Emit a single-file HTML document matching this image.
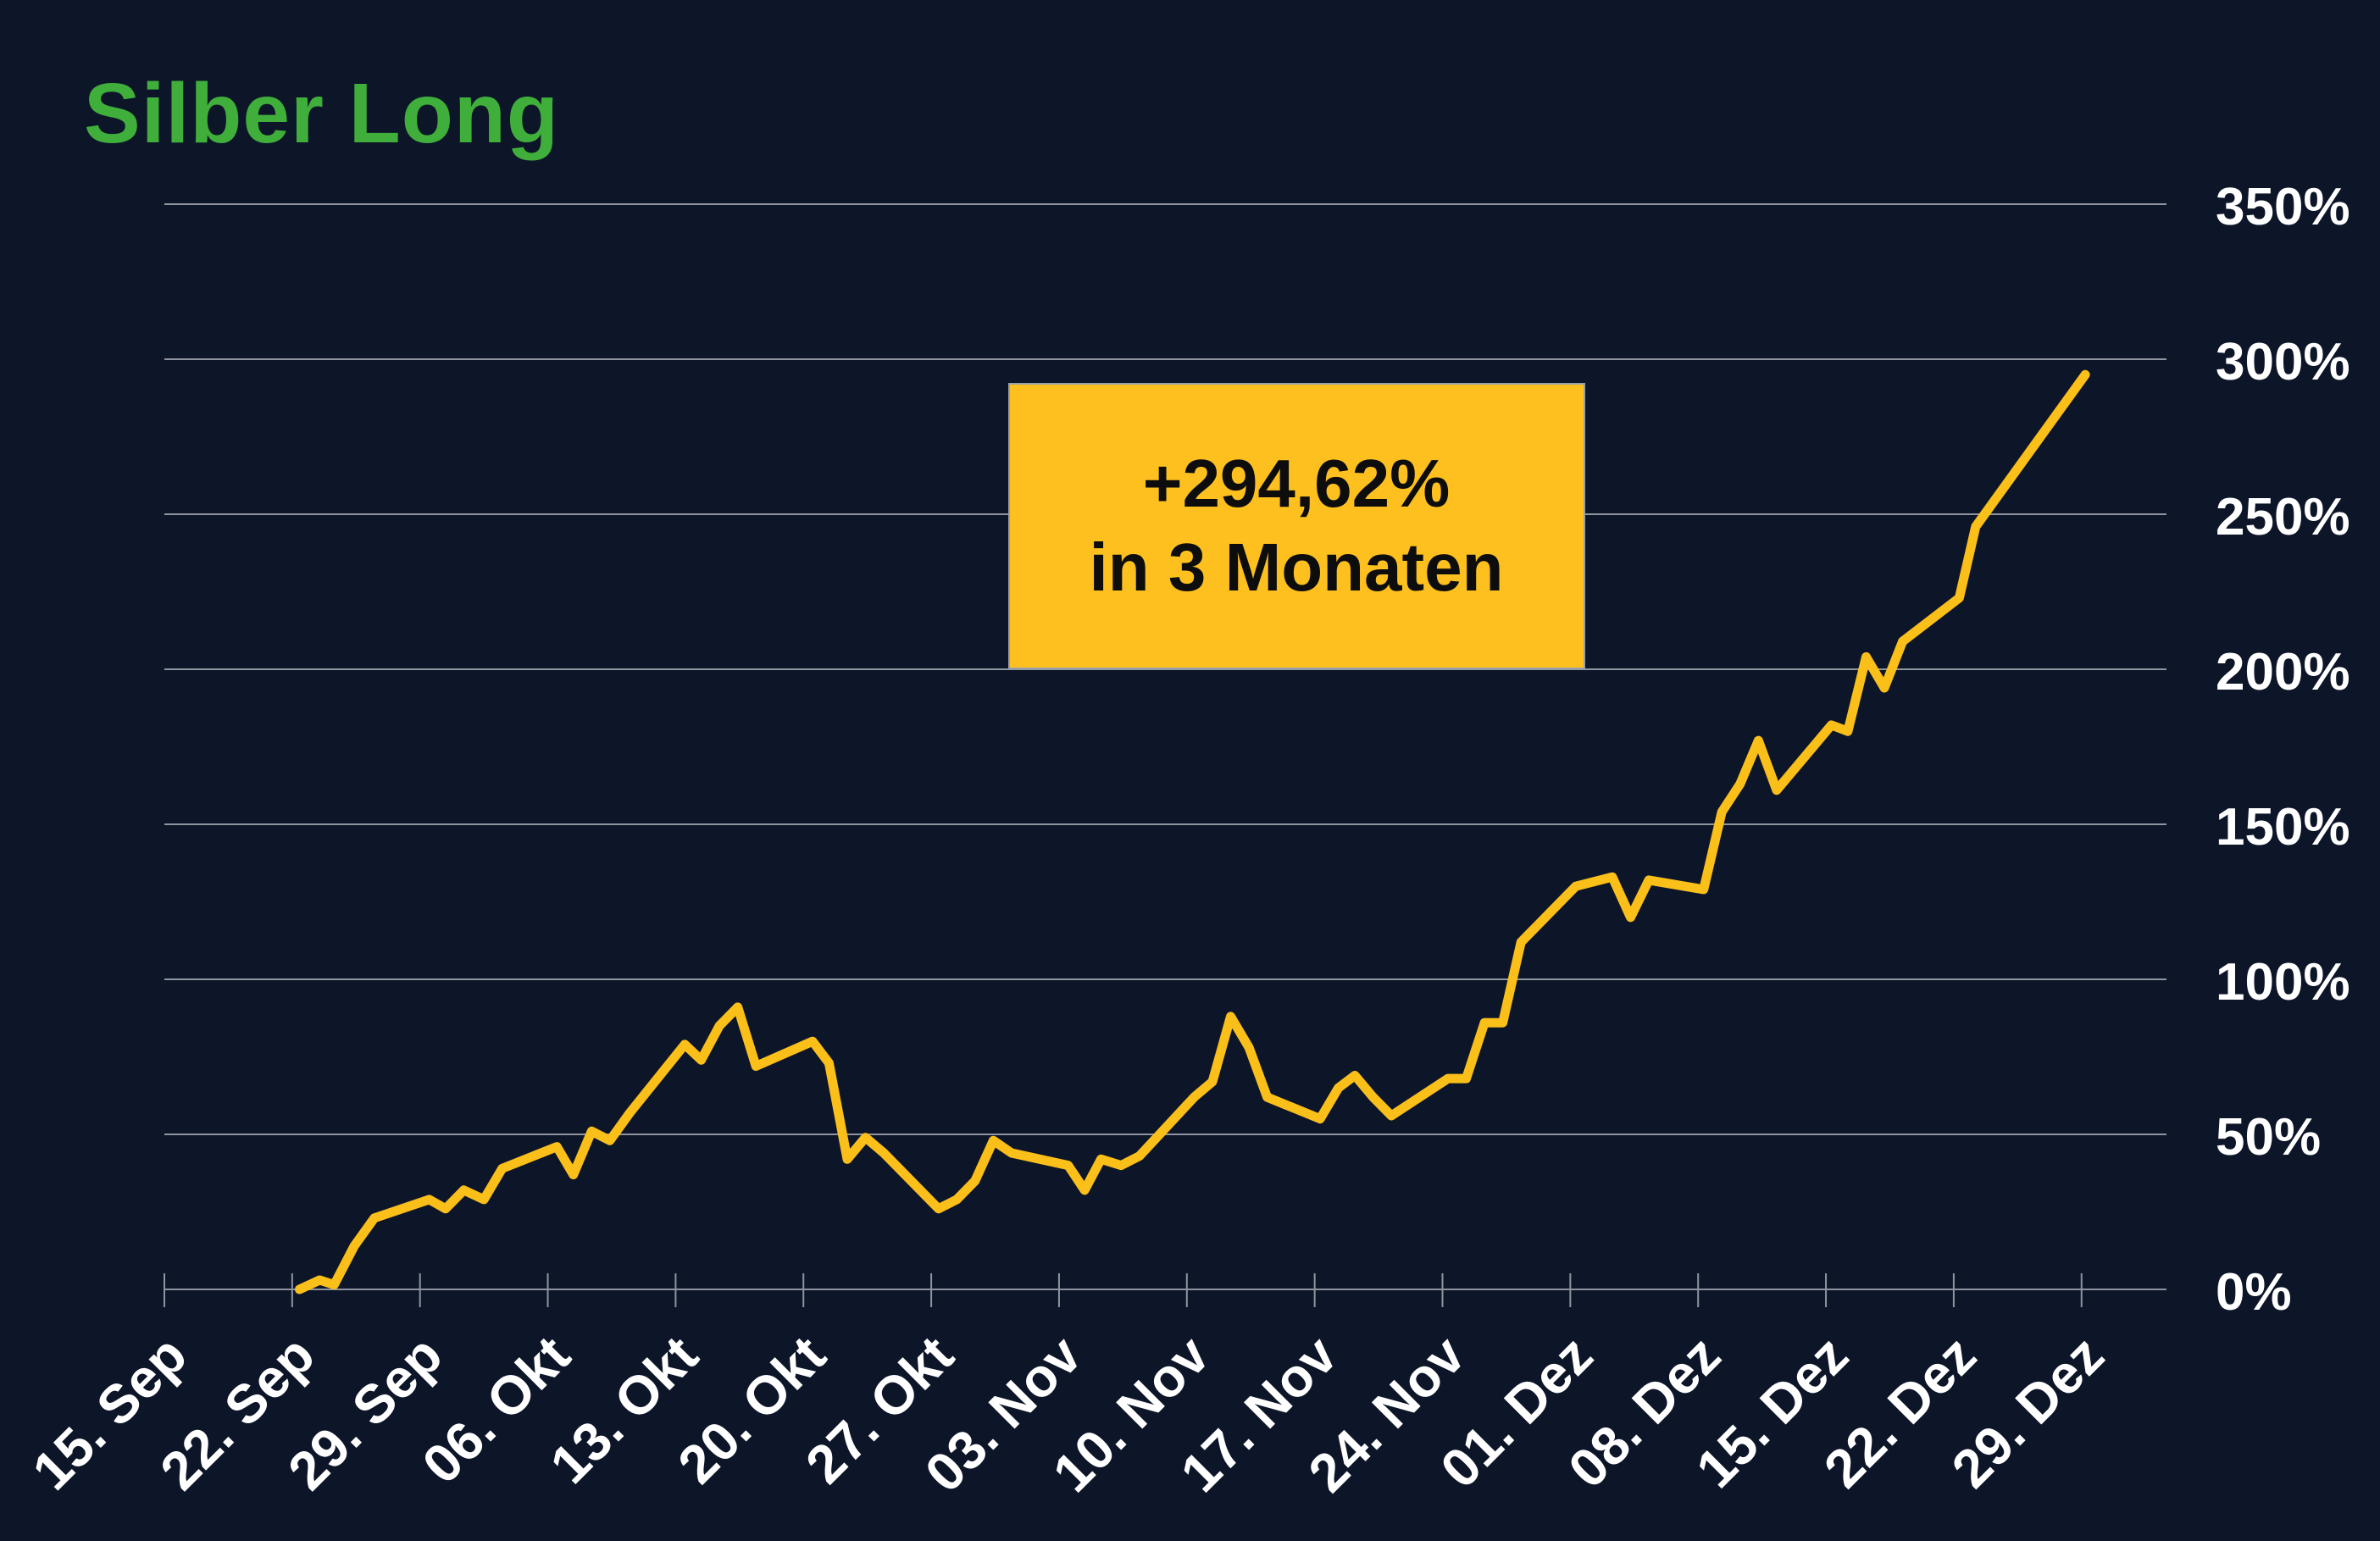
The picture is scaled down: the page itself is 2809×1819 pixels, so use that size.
<!DOCTYPE html>
<html><head><meta charset="utf-8"><style>
html,body{margin:0;padding:0;background:#0d1529;}
svg{display:block;}
text{font-family:"Liberation Sans",sans-serif;font-weight:bold;}
</style></head><body>
<svg id="chart" width="2809" height="1819" viewBox="0 0 2809 1819" xmlns="http://www.w3.org/2000/svg">
<rect x="0" y="0" width="2809" height="1819" fill="#0d1529"/>
<text x="99" y="168" font-size="100" fill="#3fae3a" letter-spacing="1" style="font-weight:900">Silber Long</text>
<g id="grid"></g><g id="xaxis"></g><g id="yaxis"></g><g id="series"></g>
<g>
<rect x="1191" y="453" width="679" height="336" fill="#fdc01f" stroke="#9aa0aa" stroke-width="2"/>
<text x="1530" y="598" font-size="80" text-anchor="middle" fill="#0d0d0d">+294,62%</text>
<text x="1530" y="697" font-size="80" text-anchor="middle" fill="#0d0d0d">in 3 Monaten</text>
</g>
</svg>
<script>
const tickLabels = ["15. Sep","22. Sep","29. Sep","06. Okt","13. Okt","20. Okt","27. Okt","03. Nov","10. Nov","17. Nov","24. Nov","01. Dez","08. Dez","15. Dez","22. Dez","29. Dez"];
const yTicks = [0,50,100,150,200,250,300,350];
const days = [7.4,8.5,9.3,10.4,11.5,14.5,15.4,16.4,17.5,18.5,21.5,22.4,23.4,24.4,25.5,28.5,29.4,30.4,31.4,32.4,35.5,36.4,37.4,38.4,39.4,42.4,43.4,44.4,45.4,46.4,49.5,50.4,51.3,52.4,53.4,56.4,57.4,58.4,59.4,60.4,63.3,64.3,65.2,66.2,67.2,70.3,71.3,72.3,73.3,74.3,77.3,79.3,80.3,81.3,84.3,85.3,86.3,87.3,88.3,91.3,92.2,93.2,94.2,95.2,98.3,99.2,105.2];
const values = [0,3,1.5,14,23,29,26,32,29,39,46,37,51,48,57,79,74,85,91,72,80,73,42,49,44,26,29,35,48,44,40,32,42,40,43,62,67,88,78,62,55,65,69,62,56,68,68,86,86,112,130,133,120,132,129,154,163,177,161,182,180,204,194,209,223,246,295];

const NS="http://www.w3.org/2000/svg";
const X0=194, DAY=21.55, Y0=1522, PER=3.66, XR=2557;
const xs=d=>X0+d*DAY, ys=v=>Y0-v*PER;
function mk(tag,attrs,parent){const e=document.createElementNS(NS,tag);for(const k in attrs)e.setAttribute(k,attrs[k]);parent.appendChild(e);return e;}
const grid=document.getElementById('grid'),xa=document.getElementById('xaxis'),ya=document.getElementById('yaxis'),ser=document.getElementById('series');
yTicks.forEach(v=>{
  const l=mk('line',{x1:X0,x2:XR,y1:ys(v),y2:ys(v),stroke:'#8f949e','stroke-width':2},grid);
  
  
  const t=mk('text',{x:2615,y:ys(v)+24,'font-size':62,fill:'#ffffff'},ya);
  t.textContent=v+'%';
  
  
});
tickLabels.forEach((s,i)=>{
  const x=xs(i*7);
  const l=mk('line',{x1:x,x2:x,y1:Y0-19,y2:Y0+21,stroke:'#8f949e','stroke-width':2},xa);
  
  
  const t=mk('text',{x:0,y:0,'font-size':64,fill:'#ffffff','text-anchor':'end',transform:`translate(${x+30},${Y0+82}) rotate(-45)`},xa);
  t.textContent=s;
  
  
});
const pts=days.map((d,i)=>xs(d).toFixed(1)+','+ys(values[i]).toFixed(1)).join(' ');
const pl=mk('polyline',{points:pts,fill:'none',stroke:'#fbbf1a','stroke-width':11,'stroke-linejoin':'round','stroke-linecap':'round'},ser);


</script>
</body></html>
